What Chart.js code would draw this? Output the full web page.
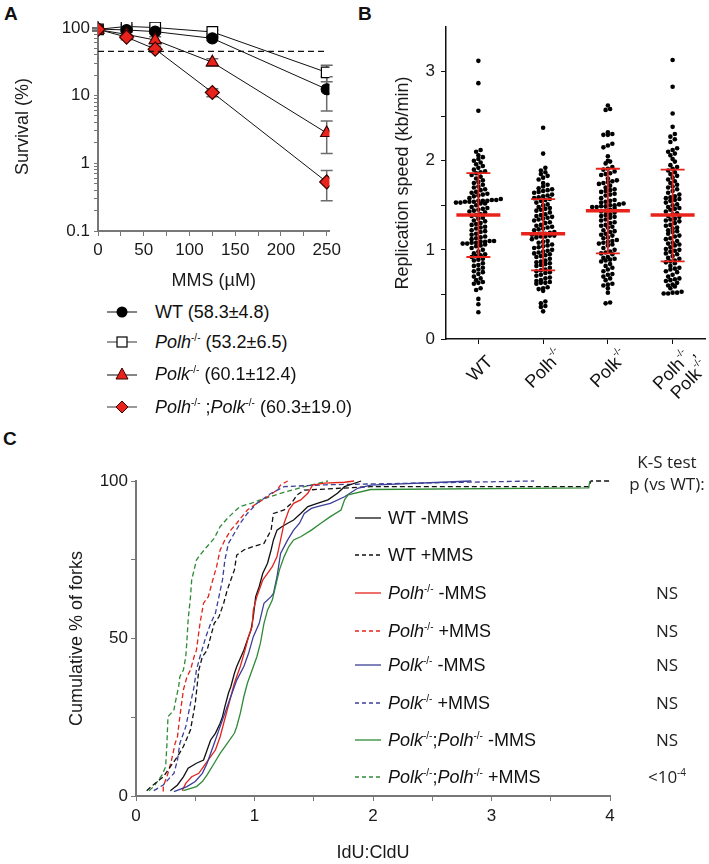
<!DOCTYPE html>
<html>
<head>
<meta charset="utf-8">
<script src="https://cdn.jsdelivr.net/npm/chart.js@4.4.0/dist/chart.umd.min.js"></script>
<style>
  body { margin: 0; background: #fff; font-family: 'Liberation Sans', Arial, sans-serif; color: #111; }
  #page { position: relative; width: 709px; height: 864px; overflow: hidden; }
  canvas { position: absolute; }
  .panel { position: absolute; font-weight: bold; font-size: 19px; }
  .legA { position: absolute; left: 107px; height: 22px; display: flex; align-items: center; font-size: 18px; white-space: nowrap; }
  .legA svg { margin-right: 18px; }
  .legC { position: absolute; left: 355px; height: 22px; display: flex; align-items: center; font-size: 18px; white-space: nowrap; }
  .legC svg { margin-right: 7px; }
  sup { font-size: 10px; vertical-align: 7px; line-height: 0; }
  .ks { position: absolute; width: 120px; left: 607px; text-align: center; font-family: 'Open Sans', sans-serif; font-size: 17px; line-height: 22px; color: #222; }
</style>
</head>
<body>
<div id="page">
  <div class="panel" style="left:4px;top:3px">A</div>
  <div class="panel" style="left:358px;top:3px">B</div>
  <div class="panel" style="left:3px;top:428px">C</div>

  <canvas id="chartA" width="345" height="292" style="left:0;top:0"></canvas>
  <canvas id="chartB" width="369" height="420" style="left:340px;top:0"></canvas>
  <canvas id="chartC" width="709" height="424" style="left:0;top:440px"></canvas>

  <!-- legend of panel A -->
  <div class="legA" style="top:301px"><svg width="30" height="16"><line x1="0" y1="8" x2="30" y2="8" stroke="#333" stroke-width="1.2"/><circle cx="15" cy="8" r="5.5" fill="#000"/></svg><span>WT (58.3±4.8)</span></div>
  <div class="legA" style="top:331px"><svg width="30" height="16"><line x1="0" y1="8" x2="30" y2="8" stroke="#555" stroke-width="1.2"/><rect x="10" y="3" width="10" height="10" fill="#fff" stroke="#000" stroke-width="1.2"/></svg><span><i>Polh</i><sup>-/-</sup> (53.2±6.5)</span></div>
  <div class="legA" style="top:363px"><svg width="30" height="16"><line x1="0" y1="9" x2="30" y2="9" stroke="#333" stroke-width="1.2"/><polygon points="15,2 21,13 9,13" fill="#e8231b" stroke="#3a0000" stroke-width="1"/></svg><span><i>Polk</i><sup>-/-</sup> (60.1±12.4)</span></div>
  <div class="legA" style="top:396px"><svg width="30" height="16"><line x1="0" y1="8" x2="30" y2="8" stroke="#555" stroke-width="1.2"/><polygon points="15,2 21,8 15,14 9,8" fill="#e8231b" stroke="#3a0000" stroke-width="1"/></svg><span><i>Polh</i><sup>-/-</sup> ;<i>Polk</i><sup>-/-</sup> (60.3±19.0)</span></div>

  <!-- legend of panel C -->
  <div class="ks" style="top:451px">K-S test<br>p (vs WT):</div>
  <div class="legC" style="top:507px"><svg width="26" height="6"><line x1="0" y1="3" x2="26" y2="3" stroke="#111" stroke-width="1.3"/></svg><span>WT -MMS</span></div>
  <div class="legC" style="top:544px"><svg width="26" height="6"><line x1="0" y1="3" x2="26" y2="3" stroke="#111" stroke-width="1.3" stroke-dasharray="4 3"/></svg><span>WT +MMS</span></div>
  <div class="legC" style="top:582px"><svg width="26" height="6"><line x1="0" y1="3" x2="26" y2="3" stroke="#e3231b" stroke-width="1.3"/></svg><span><i>Polh</i><sup>-/-</sup> -MMS</span></div>
  <div class="legC" style="top:620px"><svg width="26" height="6"><line x1="0" y1="3" x2="26" y2="3" stroke="#e3231b" stroke-width="1.3" stroke-dasharray="4 3"/></svg><span><i>Polh</i><sup>-/-</sup> +MMS</span></div>
  <div class="legC" style="top:654px"><svg width="26" height="6"><line x1="0" y1="3" x2="26" y2="3" stroke="#3b3f98" stroke-width="1.3"/></svg><span><i>Polk</i><sup>-/-</sup> -MMS</span></div>
  <div class="legC" style="top:692px"><svg width="26" height="6"><line x1="0" y1="3" x2="26" y2="3" stroke="#3b3f98" stroke-width="1.3" stroke-dasharray="4 3"/></svg><span><i>Polk</i><sup>-/-</sup> +MMS</span></div>
  <div class="legC" style="top:729px"><svg width="26" height="6"><line x1="0" y1="3" x2="26" y2="3" stroke="#2f8a36" stroke-width="1.3"/></svg><span><i>Polk</i><sup>-/-</sup>;<i>Polh</i><sup>-/-</sup> -MMS</span></div>
  <div class="legC" style="top:766px"><svg width="26" height="6"><line x1="0" y1="3" x2="26" y2="3" stroke="#2f8a36" stroke-width="1.3" stroke-dasharray="4 3"/></svg><span><i>Polk</i><sup>-/-</sup>;<i>Polh</i><sup>-/-</sup> +MMS</span></div>
  <div class="ks" style="top:582px">NS</div>
  <div class="ks" style="top:620px">NS</div>
  <div class="ks" style="top:654px">NS</div>
  <div class="ks" style="top:692px">NS</div>
  <div class="ks" style="top:729px">NS</div>
  <div class="ks" style="top:766px">&lt;10<sup>-4</sup></div>
</div>

<script>
// ---------- data, panel A (clonogenic survival) ----------
const mmsDose = [0, 31.25, 62.5, 125, 250];
const survWT = [96, 93, 88, 70, 12.4];
const survPolh = [95, 105, 101, 87, 22];
const survPolk = [94, 80, 66, 31, 2.8];
const survDouble = [95, 73, 48.5, 11.1, 0.53];
const errWT = [4, 5, 6, 5, 6.5];
const errPolh = [5, 6, 6, 5, 6];
const errPolk = [4, 6, 8, 4, 1.4];
const errDouble = [4, 6, 5, 1.5, 0.25];
const ld50Level = 45;
const survivalTicks = [0.1, 1, 10, 100];
const doseTicks = [0, 50, 100, 150, 200, 250];

// ---------- data, panel B (fork speed, kb/min) ----------
const genotypes = ['WT', 'Polh-/-', 'Polk-/-', 'Polh-/-;Polk-/-'];
const speedWT = [3.12, 2.87, 2.56,
  2.12, 2.10, 2.06, 2.04, 2.02, 2.00, 1.98, 1.96, 1.94,
  1.92, 1.90, 1.88, 1.87, 1.86, 1.84, 1.82, 1.80, 1.78, 1.76, 1.75, 1.73,
  1.71, 1.70, 1.68, 1.67, 1.65, 1.64, 1.63, 1.62, 1.61, 1.60,
  1.58, 1.57, 1.56, 1.56, 1.55, 1.55, 1.55, 1.54, 1.54, 1.54, 1.53, 1.53, 1.52, 1.52,
  1.50, 1.48, 1.47, 1.46, 1.45, 1.44, 1.43, 1.42, 1.40, 1.39, 1.38,
  1.36, 1.35, 1.33, 1.32, 1.30, 1.29, 1.28, 1.26, 1.25, 1.24,
  1.22, 1.21, 1.20, 1.18, 1.17, 1.15, 1.14, 1.13, 1.12,
  1.10, 1.10, 1.09, 1.09, 1.08, 1.08, 1.07, 1.07, 1.06, 1.05, 1.04,
  1.02, 1.00, 0.98, 0.96, 0.95, 0.94, 0.93, 0.92, 0.90, 0.89, 0.88,
  0.85, 0.83, 0.82, 0.80, 0.78, 0.76, 0.75, 0.73,
  0.70, 0.68, 0.66, 0.64, 0.63, 0.62,
  0.57, 0.55, 0.45, 0.39, 0.30];
const speedPolh = [2.37, 2.08,
  1.92, 1.89, 1.87, 1.85, 1.83, 1.81, 1.79,
  1.75, 1.73, 1.71, 1.69, 1.68, 1.67, 1.66, 1.65, 1.64,
  1.62, 1.61, 1.60, 1.59, 1.58, 1.57, 1.56, 1.55,
  1.53, 1.51, 1.50, 1.48, 1.47, 1.46, 1.45, 1.44,
  1.42, 1.40, 1.39, 1.38, 1.37, 1.36, 1.35, 1.34, 1.33,
  1.31, 1.30, 1.28, 1.27, 1.26, 1.25, 1.24, 1.23, 1.22,
  1.20, 1.19, 1.18, 1.18, 1.17, 1.17, 1.16, 1.16, 1.15, 1.15, 1.14,
  1.12, 1.10, 1.09, 1.08, 1.06, 1.05, 1.04, 1.03, 1.02,
  1.00, 0.99, 0.98, 0.97, 0.96, 0.95, 0.94, 0.93, 0.92,
  0.90, 0.88, 0.87, 0.86, 0.85, 0.84, 0.83, 0.82,
  0.80, 0.78, 0.77, 0.76, 0.75, 0.74, 0.72, 0.71,
  0.69, 0.68, 0.66, 0.65, 0.64, 0.63, 0.63, 0.62,
  0.58, 0.57, 0.56, 0.54, 0.42, 0.40, 0.37, 0.36, 0.31];
const speedPolk = [2.62, 2.58, 2.57,
  2.32, 2.30, 2.29, 2.29,
  2.19, 2.17, 2.15, 2.05, 2.00, 1.99, 1.97,
  1.93, 1.91, 1.90, 1.88, 1.86, 1.85, 1.84,
  1.80, 1.78, 1.77, 1.76, 1.75, 1.74, 1.72,
  1.70, 1.68, 1.67, 1.66, 1.65, 1.63, 1.62, 1.61,
  1.58, 1.56, 1.55, 1.54, 1.53, 1.52, 1.51, 1.50, 1.50, 1.49, 1.49, 1.48, 1.48, 1.47,
  1.45, 1.44, 1.43, 1.42, 1.40, 1.39, 1.38, 1.37, 1.36,
  1.34, 1.33, 1.31, 1.30, 1.28, 1.27, 1.26, 1.25,
  1.22, 1.21, 1.20, 1.18, 1.17, 1.16, 1.14, 1.13,
  1.11, 1.10, 1.09, 1.08, 1.07, 1.06, 1.05,
  1.02, 1.00, 0.98, 0.97, 0.96, 0.95,
  0.92, 0.91, 0.90, 0.89, 0.88, 0.87,
  0.84, 0.82, 0.80, 0.78, 0.76,
  0.73, 0.72, 0.70, 0.68, 0.66,
  0.62, 0.61, 0.60, 0.57, 0.52, 0.41, 0.40];
const speedDouble = [3.13, 2.83, 2.53, 2.38, 2.30, 2.27, 2.24, 2.21,
  2.14, 2.12, 2.10, 2.08, 2.06, 2.02, 1.99,
  1.95, 1.93, 1.91, 1.89, 1.87, 1.85, 1.83, 1.81,
  1.79, 1.77, 1.75, 1.73, 1.71, 1.70, 1.68,
  1.66, 1.64, 1.62, 1.60, 1.59, 1.58, 1.57, 1.56, 1.55,
  1.53, 1.51, 1.50, 1.48, 1.47, 1.46, 1.45, 1.43,
  1.41, 1.40, 1.38, 1.37, 1.35, 1.34, 1.33, 1.32,
  1.30, 1.28, 1.27, 1.25, 1.24, 1.22, 1.21, 1.20,
  1.18, 1.16, 1.15, 1.13, 1.12, 1.10, 1.08, 1.07, 1.06, 1.05,
  1.03, 1.01, 1.00, 0.99, 0.98, 0.96, 0.95,
  0.93, 0.91, 0.90, 0.88, 0.87, 0.86, 0.85,
  0.82, 0.80, 0.79, 0.78, 0.76, 0.75,
  0.72, 0.70, 0.68, 0.67, 0.66, 0.65, 0.63,
  0.61, 0.60, 0.59, 0.57, 0.53, 0.52, 0.52, 0.51, 0.51];
const speedMean = [1.39, 1.18, 1.44, 1.39];
const speedSdLow = [0.92, 0.77, 0.96, 0.87];
const speedSdHigh = [1.86, 1.57, 1.91, 1.90];
const speedTicks = [0, 1, 2, 3];

// ---------- data, panel C (cumulative IdU:CldU) ----------
const wtMinusX = [0.29, 0.35, 0.40, 0.44, 0.51, 0.57, 0.60, 0.63, 0.67, 0.71, 0.73, 0.75, 0.78, 0.80, 0.83, 0.85, 0.91, 0.94, 0.97, 0.99, 1.01, 1.04, 1.07, 1.11, 1.14, 1.16, 1.19, 1.23, 1.28, 1.33, 1.39, 1.45, 1.53, 1.62, 1.70, 1.76, 1.90];
const wtMinusPct = [1.7, 3.5, 6.1, 8.8, 10.4, 11.4, 14.6, 17.8, 19.9, 23.1, 25.2, 28.4, 32.6, 34.7, 38.9, 41.1, 46.3, 49.5, 52.7, 56.9, 63.3, 66.5, 70.7, 73.9, 78.1, 81.3, 84.4, 85.5, 86.6, 87.6, 89.7, 91.9, 92.9, 94.0, 96.1, 98.2, 100];
const wtPlusX = [0.09, 0.16, 0.23, 0.29, 0.35, 0.40, 0.46, 0.50, 0.53, 0.56, 0.60, 0.66, 0.70, 0.74, 0.77, 0.80, 0.83, 0.85, 0.91, 0.99, 1.08, 1.14, 1.16, 1.25, 1.31, 1.36, 1.42, 1.98, 3.82, 3.84, 4.0];
const wtPlusPct = [1.7, 4.0, 6.1, 9.3, 12.5, 15.7, 21.0, 29.4, 40.0, 44.2, 46.3, 54.8, 56.9, 61.2, 65.4, 68.6, 71.7, 76.5, 78.1, 79.2, 80.2, 84.4, 89.7, 90.8, 92.9, 95.6, 97.1, 98.2, 98.2, 100, 100];
const polhMinusX = [0.39, 0.42, 0.47, 0.53, 0.57, 0.63, 0.67, 0.71, 0.74, 0.77, 0.80, 0.83, 0.88, 0.92, 0.95, 0.98, 0.99, 1.02, 1.07, 1.11, 1.15, 1.19, 1.22, 1.25, 1.29, 1.33, 1.39, 1.45, 1.49, 1.59, 1.76, 1.84];
const polhMinusPct = [1.7, 4.0, 6.1, 7.2, 9.3, 12.5, 14.6, 18.8, 23.1, 27.3, 31.5, 35.8, 41.1, 46.3, 50.6, 53.8, 59.0, 63.3, 68.6, 70.7, 72.8, 76.0, 81.3, 86.6, 90.8, 92.9, 94.0, 96.1, 98.7, 99.3, 99.6, 100];
const polhPlusX = [0.23, 0.23, 0.27, 0.30, 0.33, 0.35, 0.37, 0.40, 0.43, 0.46, 0.49, 0.51, 0.54, 0.57, 0.61, 0.64, 0.68, 0.71, 0.75, 0.80, 0.85, 0.94, 1.02, 1.11, 1.19, 1.22, 1.28];
const polhPlusPct = [1.4, 3.0, 7.2, 11.4, 16.7, 18.8, 25.2, 33.7, 37.9, 40.0, 44.2, 46.3, 54.8, 61.2, 63.3, 67.5, 72.8, 78.1, 81.3, 84.4, 86.6, 90.8, 92.9, 95.0, 97.1, 98.7, 100];
const polkMinusX = [0.32, 0.43, 0.50, 0.56, 0.60, 0.64, 0.67, 0.70, 0.74, 0.77, 0.81, 0.85, 0.91, 0.95, 0.99, 1.04, 1.08, 1.14, 1.16, 1.19, 1.22, 1.28, 1.33, 1.38, 1.42, 1.48, 1.53, 1.64, 1.76, 1.87, 1.98, 2.83];
const polkMinusPct = [1.4, 3.0, 4.6, 7.2, 10.4, 14.6, 17.8, 21.0, 25.2, 28.4, 32.6, 36.8, 41.1, 45.3, 50.6, 54.8, 61.2, 63.3, 64.3, 69.6, 77.0, 81.3, 84.4, 86.6, 89.7, 91.3, 91.9, 92.9, 95.0, 97.7, 98.7, 100];
const polkPlusX = [0.15, 0.23, 0.32, 0.35, 0.37, 0.42, 0.46, 0.49, 0.51, 0.54, 0.59, 0.63, 0.67, 0.70, 0.73, 0.75, 0.78, 0.83, 0.88, 0.94, 1.02, 1.14, 1.25, 1.60, 3.36];
const polkPlusPct = [1.7, 3.5, 7.2, 11.4, 16.7, 22.0, 29.4, 34.7, 40.0, 44.2, 50.6, 54.8, 58.0, 63.3, 68.6, 74.9, 80.2, 83.4, 86.6, 89.7, 92.9, 96.1, 98.2, 98.8, 100];
const doubleMinusX = [0.40, 0.51, 0.56, 0.60, 0.66, 0.71, 0.77, 0.83, 0.85, 0.88, 0.91, 0.94, 0.98, 1.02, 1.05, 1.08, 1.11, 1.15, 1.21, 1.25, 1.29, 1.33, 1.39, 1.48, 1.56, 1.64, 1.73, 1.76, 1.79, 1.98, 3.82, 3.83];
const doubleMinusPct = [1.7, 3.0, 4.6, 6.7, 10.4, 13.5, 16.7, 19.9, 22.0, 26.2, 31.5, 35.8, 40.0, 44.2, 48.5, 54.8, 59.0, 62.2, 71.7, 76.0, 79.2, 81.3, 82.3, 84.4, 86.6, 88.7, 90.8, 94.0, 95.6, 97.3, 97.8, 100];
const doublePlusX = [0.11, 0.15, 0.22, 0.25, 0.26, 0.27, 0.32, 0.33, 0.36, 0.37, 0.40, 0.42, 0.43, 0.44, 0.46, 0.47, 0.49, 0.51, 0.54, 0.60, 0.66, 0.71, 0.77, 0.83, 0.88, 0.97, 1.05, 1.22, 1.42, 1.62];
const doublePlusPct = [1.7, 3.0, 6.7, 9.3, 15.7, 25.2, 27.3, 29.4, 34.7, 37.9, 40.0, 44.2, 49.5, 55.9, 63.3, 68.6, 71.7, 74.9, 76.5, 79.2, 81.8, 85.5, 88.1, 90.3, 91.9, 92.9, 94.0, 96.1, 98.2, 100];
const ratioTicks = [0, 1, 2, 3, 4];
const pctTicks = [0, 50, 100];

// ---------- shared look ----------
const FONT = "'Liberation Sans', Arial, sans-serif";
const tickFont = { family: FONT, size: 17 };
const titleFont = { family: FONT, size: 18 };
const RED = '#e8231b';
Chart.defaults.font.family = FONT;
Chart.defaults.color = '#1a1a1a';

const pts = (xs, ys) => xs.map((x, i) => ({ x: x, y: ys[i] }));

// ===========================
// PANEL A
// ===========================
const errorBarsA = {
    id: 'errorBarsA',
    beforeDatasetsDraw(chart) {
        const { ctx, scales: { x, y } } = chart;
        ctx.save();
        ctx.strokeStyle = '#6b6b6b';
        ctx.lineWidth = 1.5;
        chart.data.datasets.forEach(ds => {
            if (!ds.err) return;
            ds.data.forEach((p, i) => {
                const px = x.getPixelForValue(p.x);
                const top = y.getPixelForValue(p.y + ds.err[i]);
                const bot = y.getPixelForValue(Math.max(p.y - ds.err[i], 0.11));
                ctx.beginPath();
                ctx.moveTo(px, top); ctx.lineTo(px, bot);
                ctx.moveTo(px - 6, top); ctx.lineTo(px + 6, top);
                ctx.moveTo(px - 6, bot); ctx.lineTo(px + 6, bot);
                ctx.stroke();
            });
        });
        ctx.restore();
    }
};

function survSet(ys, err, style, fill, radius) {
    return {
        data: pts(mmsDose, ys), err: err, showLine: true,
        borderColor: '#111', borderWidth: 1,
        pointStyle: style, pointRadius: radius, pointBackgroundColor: fill,
        pointBorderColor: fill === RED ? '#3a0000' : '#000',
        pointBorderWidth: 1.2
    };
}

const doseTickList = [];
for (let d = 0; d <= 250; d += 25) doseTickList.push(d);
const survTickList = [];
survivalTicks.forEach(dec => { for (let k = 1; k <= 9; k++) { if (dec * k <= 120) survTickList.push(dec * k); } });

new Chart(document.getElementById('chartA'), {
    type: 'scatter',
    data: {
        datasets: [
            { data: [{ x: 0, y: ld50Level }, { x: 248, y: ld50Level }], showLine: true, borderColor: '#111', borderWidth: 1.2, borderDash: [6, 4], pointRadius: 0 },
            survSet(survDouble, errDouble, 'rectRot', RED, 7),
            survSet(survPolk, errPolk, 'triangle', RED, 7),
            survSet(survWT, errWT, 'circle', '#000', 5.5),
            survSet(survPolh, errPolh, 'rect', '#fff', 7.5)
        ]
    },
    options: {
        animation: false, responsive: false, devicePixelRatio: 1,
        layout: { padding: { top: 22, right: 10, left: 12, bottom: 0 } },
        plugins: { legend: { display: false }, tooltip: { enabled: false } },
        scales: {
            x: {
                type: 'linear', min: 0, max: 253,
                afterBuildTicks: s => { s.ticks = doseTickList.map(v => ({ value: v })); },
                afterFit: s => { s.height = 61; },
                ticks: { font: tickFont, maxRotation: 0, autoSkip: false, padding: 4, callback: v => doseTicks.includes(v) ? v : '' },
                grid: { drawOnChartArea: false, tickLength: 5, color: '#777' },
                border: { color: '#777', width: 2 },
                title: { display: true, text: 'MMS (µM)', font: titleFont, padding: { top: 6, bottom: 0 } }
            },
            y: {
                type: 'logarithmic', min: 0.1, max: 122,
                afterBuildTicks: s => { s.ticks = survTickList.map(v => ({ value: v })); },
                afterFit: s => { s.width = 86; },
                ticks: { font: tickFont, autoSkip: false, padding: 4, callback: v => survivalTicks.includes(v) ? String(v) : '' },
                grid: { drawOnChartArea: false, tickLength: 4, color: '#777' },
                border: { color: '#777', width: 2 },
                title: { display: true, text: 'Survival (%)', font: titleFont, padding: { top: 0, bottom: 4 } }
            }
        }
    },
    plugins: [errorBarsA]
});

// ===========================
// PANEL B
// ===========================
// dot-plot layout: values that fall in the same pixel row sit side by side
function dotRows(values, center) {
    const rowH = 4.6, dotW = 4.5, pxY = 311 / 3.5, pxX = 260 / 4;
    const rows = {};
    values.forEach(v => {
        const r = Math.round(v * pxY / rowH);
        (rows[r] = rows[r] || []).push(v);
    });
    const out = [];
    Object.values(rows).forEach(list => {
        list.sort((a, b) => a - b).forEach((v, k) => {
            const off = (k - (list.length - 1) / 2) * dotW;
            out.push({ x: center + off / pxX, y: v });
        });
    });
    return out;
}

const meanSdB = {
    id: 'meanSdB',
    afterDatasetsDraw(chart) {
        const { ctx, scales: { x, y } } = chart;
        ctx.save();
        ctx.strokeStyle = RED;
        speedMean.forEach((m, i) => {
            const px = x.getPixelForValue(i);
            const ym = y.getPixelForValue(m), yl = y.getPixelForValue(speedSdLow[i]), yh = y.getPixelForValue(speedSdHigh[i]);
            ctx.lineWidth = 1.8;
            ctx.beginPath();
            ctx.moveTo(px, yl); ctx.lineTo(px, yh);
            ctx.moveTo(px - 12, yl); ctx.lineTo(px + 12, yl);
            ctx.moveTo(px - 12, yh); ctx.lineTo(px + 12, yh);
            ctx.stroke();
            ctx.lineWidth = 3.5;
            ctx.beginPath();
            ctx.moveTo(px - 22, ym); ctx.lineTo(px + 22, ym);
            ctx.stroke();
        });
        ctx.restore();
    }
};

// rotated genotype labels with superscripts
const labelsB = {
    id: 'labelsB',
    afterDraw(chart) {
        const { ctx, scales: { x }, chartArea } = chart;
        const setFont = sup => { ctx.font = (sup ? '10px ' : '18px ') + FONT; };
        const widthOf = segs => segs.reduce((w, [t, sup]) => { setFont(sup); return w + ctx.measureText(t).width + (sup ? 1 : 0); }, 0);
        ctx.save();
        ctx.fillStyle = '#111';
        ctx.textBaseline = 'middle';
        genotypes.forEach((g, i) => {
            const lines = g.split(';').map((part, li, arr) => {
                const m = part.match(/^([^-]+)(-\/-)?$/);
                const segs = [[m[1], false]];
                if (m[2]) segs.push([m[2], true]);
                if (li < arr.length - 1) segs.push([',', false]);
                return segs;
            });
            const px = x.getPixelForValue(i);
            const right = widthOf(lines[0]) / 2;
            ctx.save();
            ctx.translate(px + 2, chartArea.bottom + 30);
            ctx.rotate(-Math.PI / 4);
            lines.forEach((segs, li) => {
                let cx = right - widthOf(segs);
                const cy = li * 19;
                segs.forEach(([t, sup]) => {
                    setFont(sup);
                    ctx.fillText(t, cx, sup ? cy - 7 : cy);
                    cx += ctx.measureText(t).width + (sup ? 1 : 0);
                });
            });
            ctx.restore();
        });
        ctx.restore();
    }
};

const speedGroups = [speedWT, speedPolh, speedPolk, speedDouble];
new Chart(document.getElementById('chartB'), {
    type: 'scatter',
    data: {
        datasets: speedGroups.map((vals, i) => ({
            data: dotRows(vals, i), pointRadius: 2.3, pointBackgroundColor: '#000', pointBorderWidth: 0
        }))
    },
    options: {
        animation: false, responsive: false, devicePixelRatio: 1,
        layout: { padding: { top: 27, right: 2, left: 52, bottom: 0 } },
        plugins: { legend: { display: false }, tooltip: { enabled: false } },
        scales: {
            x: {
                type: 'linear', min: -0.5, max: 3.5,
                afterBuildTicks: s => { s.ticks = [0, 1, 2, 3].map(v => ({ value: v })); },
                afterFit: s => { s.height = 81; },
                ticks: { callback: () => '' },
                grid: { drawOnChartArea: false, tickLength: 5, color: '#111' },
                border: { color: '#111', width: 1.5 }
            },
            y: {
                min: 0, max: 3.5,
                afterBuildTicks: s => { s.ticks = [0, 0.5, 1, 1.5, 2, 2.5, 3].map(v => ({ value: v })); },
                afterFit: s => { s.width = 54; },
                ticks: { font: tickFont, padding: 6, callback: v => speedTicks.includes(v) ? v : '' },
                grid: { drawOnChartArea: false, tickLength: 5, color: '#111' },
                border: { color: '#111', width: 1.5 },
                title: { display: true, text: 'Replication speed (kb/min)', font: titleFont, padding: { top: 0, bottom: 2 } }
            }
        }
    },
    plugins: [meanSdB, labelsB]
});

// ===========================
// PANEL C
// ===========================
function cdfSet(xs, ys, color, dashed) {
    return {
        data: pts(xs, ys), showLine: true, pointRadius: 0, clip: 3,
        borderColor: color, borderWidth: 1.3, borderDash: dashed ? [5, 3] : []
    };
}

const ratioTickList = [];
for (let r = 0; r <= 4; r += 0.5) ratioTickList.push(r);

new Chart(document.getElementById('chartC'), {
    type: 'scatter',
    data: {
        datasets: [
            cdfSet(doubleMinusX, doubleMinusPct, '#2f8a36', false),
            cdfSet(polkMinusX, polkMinusPct, '#3b3f98', false),
            cdfSet(polhMinusX, polhMinusPct, '#e3231b', false),
            cdfSet(wtMinusX, wtMinusPct, '#111', false),
            cdfSet(wtPlusX, wtPlusPct, '#111', true),
            cdfSet(polkPlusX, polkPlusPct, '#3b3f98', true),
            cdfSet(polhPlusX, polhPlusPct, '#e3231b', true),
            cdfSet(doublePlusX, doublePlusPct, '#2f8a36', true)
        ]
    },
    options: {
        animation: false, responsive: false, devicePixelRatio: 1,
        layout: { padding: { top: 41, right: 99, left: 66, bottom: 0 } },
        plugins: { legend: { display: false }, tooltip: { enabled: false } },
        scales: {
            x: {
                type: 'linear', min: 0, max: 4,
                afterBuildTicks: s => { s.ticks = ratioTickList.map(v => ({ value: v })); },
                afterFit: s => { s.height = 68; },
                ticks: { font: tickFont, maxRotation: 0, autoSkip: false, padding: 5, callback: v => ratioTicks.includes(v) ? v : '' },
                grid: { drawOnChartArea: false, tickLength: 5, color: '#777' },
                border: { color: '#777', width: 2 },
                title: { display: true, text: 'IdU:CldU', font: titleFont, padding: { top: 4, bottom: 0 } }
            },
            y: {
                min: 0, max: 100,
                afterBuildTicks: s => { s.ticks = [0, 25, 50, 75, 100].map(v => ({ value: v })); },
                afterFit: s => { s.width = 70; },
                ticks: { font: tickFont, padding: 3, callback: v => pctTicks.includes(v) ? v : '' },
                grid: { drawOnChartArea: false, tickLength: 5, color: '#777' },
                border: { color: '#777', width: 2 },
                title: { display: true, text: 'Cumulative % of forks', font: titleFont, padding: { top: 0, bottom: 4 } }
            }
        }
    }
});
</script>
</body>
</html>
